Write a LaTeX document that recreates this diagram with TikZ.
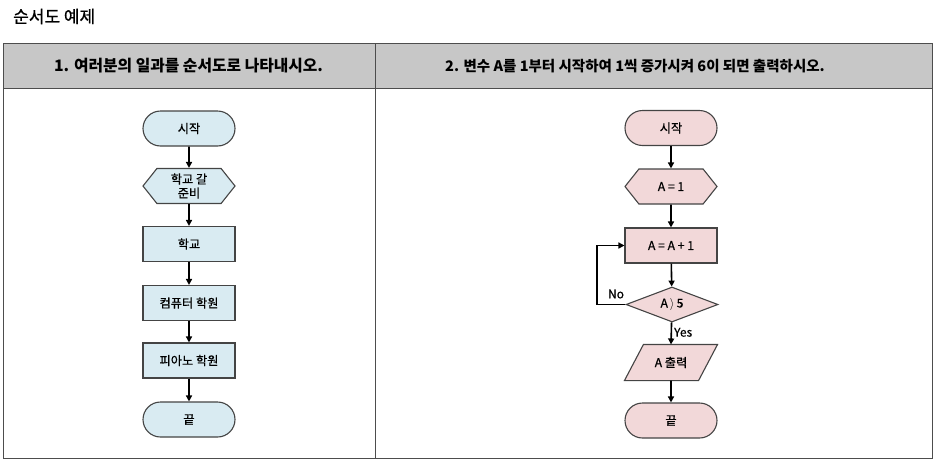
\documentclass[tikz,border=0pt]{standalone}
\usepackage{fontspec}
\setmainfont{Noto Sans CJK KR}
\newfontfamily\medfont[FakeBold=0.6]{Noto Sans CJK KR}
\usetikzlibrary{shapes.geometric,shapes.misc,shapes.symbols,arrows.meta,calc,backgrounds}
\definecolor{bluefill}{HTML}{D9EBF2}
\definecolor{pinkfill}{HTML}{F2D8D9}
\definecolor{hdrfill}{HTML}{C7C7C7}
\definecolor{tblline}{HTML}{4D4D4D}
\definecolor{shpline}{HTML}{444444}
\begin{document}
\begin{tikzpicture}[x=1pt,y=-1pt,
  shp/.style={draw=shpline,line width=1.1pt,minimum width=92pt,minimum height=35pt,inner sep=0pt,font=\medfont\fontsize{12.2}{14}\selectfont,align=center},
  term/.style={shp,rounded rectangle},
  proc/.style={shp,rectangle},
  prep/.style={shp,signal,signal to=east and west,signal pointer angle=103},
  deci/.style={shp,diamond,aspect=2.63,minimum width=92pt,minimum height=35pt},
  iobox/.style={shp,draw=none,fill=none},
  arr/.style={line width=1.6pt,-{Triangle[length=6pt,width=6pt]}},
  hdr/.style={font=\bfseries\fontsize{14.5}{16}\selectfont},
  lbl/.style={font=\medfont\fontsize{12}{14}\selectfont,inner sep=1pt}
]
\useasboundingbox (0,0) rectangle (934,461);
% table
\fill[hdrfill] (3.3,43.3) rectangle (932.3,88.3);
\draw[tblline,line width=1pt] (3.3,43.3) rectangle (932.3,458.3);
\draw[tblline,line width=1pt] (3.3,88.3) -- (932.3,88.3);
\draw[tblline,line width=1pt] (375.3,43.3) -- (375.3,458.3);
\node[anchor=west,inner sep=0pt,font=\medfont\fontsize{17}{19}\selectfont] (title) at (13,16.5) {순서도 예제};
\node[hdr,font=\bfseries\fontsize{15.8}{17}\selectfont] (h1) at (188.5,66) {1. 여러분의 일과를 순서도로 나타내시오.};
\node[hdr] (h2) at (635,66) {2. 변수 A를 1부터 시작하여 1씩 증가시켜 6이 되면 출력하시오.};
% left flowchart
\begin{scope}[every node/.append style={fill=bluefill}]
\node[term] (l1) at (189,128.5) {시작};
\node[prep] (l2) at (189,186) {학교 갈\\[0pt]준비};
\node[proc] (l3) at (189,244) {학교};
\node[proc] (l4) at (189,303) {컴퓨터 학원};
\node[proc] (l5) at (189,360.5) {피아노 학원};
\node[term] (l6) at (189,419.5) {끝};
\end{scope}
\draw[arr] (l1) -- (l2);
\draw[arr] (l2) -- (l3);
\draw[arr] (l3) -- (l4);
\draw[arr] (l4) -- (l5);
\draw[arr] (l5) -- (l6);
% right flowchart
\begin{scope}[every node/.append style={fill=pinkfill}]
\node[term] (r1) at (671,128) {시작};
\node[prep] (r2) at (671,186.5) {A = 1};
\node[proc] (r3) at (671,245.5) {A = A + 1};
\node[deci] (r4) at (672,304.5) {A\,$\rangle$\,5};
\node[iobox] (r5) at (671,362.5) {A 출력};
\node[term] (r6) at (671,420.5) {끝};
\end{scope}
\begin{scope}[on background layer]
\draw[draw=shpline,line width=1.1pt,fill=pinkfill]
  (r5.south west) -- ($(r5.south east)+(-19,0)$) -- (r5.north east) -- ($(r5.north west)+(19,0)$) -- cycle;
\end{scope}
\coordinate (c1) at (597,304.5);
\coordinate (c2) at (597,245.5);
\draw[arr] (r1) -- (r2);
\draw[arr] (r2) -- (r3);
\draw[arr] (r3) -- (r4);
\draw[arr] (r4) -- (r5.north) node[lbl,pos=0.45,right,xshift=1pt] (yes) {Yes};
\draw[arr] (r5.south) -- (r6);
\draw[arr] (r4.west) -- (c1) -- (c2) -- (r3.west);
\node[lbl] (no) at (616,294) {No};
\end{tikzpicture}
\end{document}
